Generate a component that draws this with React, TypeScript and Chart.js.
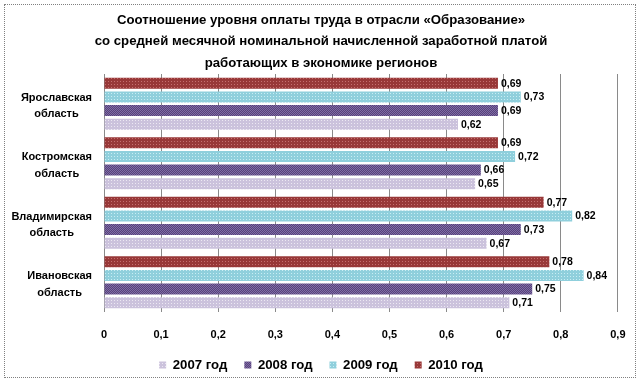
import React, { useEffect, useRef } from "react";
import { Chart, registerables } from "chart.js";

Chart.register(...registerables);

const categories: string[][] = [
  ["Ярославская", "область"],
  ["Костромская", "область"],
  ["Владимирская", "область"],
  ["Ивановская", "область"],
];
const titleLines = [
  "Соотношение уровня оплаты труда в отрасли «Образование»",
  "со средней месячной номинальной начисленной заработной платой",
  "работающих в экономике регионов",
];
const values2007 = [0.62, 0.65, 0.67, 0.71];
const values2008 = [0.69, 0.66, 0.73, 0.75];
const values2009 = [0.73, 0.72, 0.82, 0.84];
const values2010 = [0.69, 0.69, 0.77, 0.78];
const seriesNames = ["2007 год", "2008 год", "2009 год", "2010 год"];

const FONT = "'Liberation Sans', Arial, sans-serif";

function makePattern(base: string, dot: string, size: number, checker: boolean) {
  const c = document.createElement("canvas");
  c.width = size;
  c.height = size;
  const g = c.getContext("2d")!;
  g.fillStyle = base;
  g.fillRect(0, 0, size, size);
  g.fillStyle = dot;
  g.fillRect(0, 0, 1, 1);
  if (checker) g.fillRect(1, 1, 1, 1);
  const p = g.createPattern(c, "repeat");
  return p || base;
}

const valueLabels = {
  id: "valueLabels",
  afterDatasetsDraw(chart: any) {
    const ctx = chart.ctx;
    ctx.save();
    ctx.font = `bold 10.5px ${FONT}`;
    ctx.fillStyle = "#000";
    ctx.textAlign = "left";
    ctx.textBaseline = "middle";
    chart.data.datasets.forEach((ds: any, i: number) => {
      const meta = chart.getDatasetMeta(i);
      meta.data.forEach((el: any, j: number) => {
        const v = ds.data[j] as number;
        ctx.fillText(v.toFixed(2).replace(".", ","), el.x + 3, el.y + 0.5);
      });
    });
    ctx.restore();
  },
};

const yLabels = {
  id: "yLabels",
  afterDraw(chart: any) {
    const ctx = chart.ctx;
    const ys = chart.scales.y;
    ctx.save();
    ctx.font = `bold 11px ${FONT}`;
    ctx.fillStyle = "#000";
    ctx.textAlign = "center";
    ctx.textBaseline = "middle";
    (chart.data.labels as string[][]).forEach((lines, i) => {
      const y = ys.getPixelForValue(i);
      const w = Math.max(...lines.map((l) => ctx.measureText(l).width));
      const cx = 92 - w / 2;
      lines.forEach((l, k) => {
        ctx.fillText(l, cx, y + 2 + (k - (lines.length - 1) / 2) * 16.5);
      });
    });
    ctx.restore();
  },
};

export default function App() {
  const ref = useRef<HTMLCanvasElement>(null);
  useEffect(() => {
    const p2007 = makePattern("#cbc2dc", "#ece8f2", 3, false);
    const p2008 = makePattern("#574279", "#7f6ca6", 2, true);
    const p2009 = makePattern("#8fcfdc", "#c9edf3", 3, false);
    const p2010 = makePattern("#983838", "#c46e6e", 3, false);
    const chart = new Chart(ref.current!, {
      type: "bar",
      data: {
        labels: categories as any,
        datasets: [
          { label: seriesNames[3], data: values2010, backgroundColor: p2010 as any, borderWidth: 0 },
          { label: seriesNames[2], data: values2009, backgroundColor: p2009 as any, borderWidth: 0 },
          { label: seriesNames[1], data: values2008, backgroundColor: p2008 as any, borderWidth: 0 },
          { label: seriesNames[0], data: values2007, backgroundColor: p2007 as any, borderWidth: 0 },
        ],
      },
      options: {
        indexAxis: "y",
        responsive: false,
        animation: false,
        devicePixelRatio: 1,
        layout: { padding: { left: 0, right: 0, top: 0, bottom: 0.4 } },
        datasets: { bar: { barPercentage: 0.8, categoryPercentage: 0.92 } },
        scales: {
          x: {
            min: 0,
            max: 0.9,
            ticks: {
              stepSize: 0.1,
              padding: 16.5,
              maxRotation: 0,
              color: "#000",
              font: { family: FONT, size: 11, weight: "bold" },
              callback: (v: any) => (Number(v) === 0 ? "0" : Number(v).toFixed(1).replace(".", ",")),
            },
            grid: { color: "#8a8a8a", drawTicks: false, lineWidth: 1 },
            border: { display: false },
            afterFit: (s: any) => {
              s.height = 29.4;
            },
          },
          y: {
            ticks: { display: false },
            grid: { display: false },
            border: { display: false },
            afterFit: (s: any) => {
              s.width = 104;
            },
          },
          y2: {
            type: "linear",
            position: "right",
            display: true,
            ticks: { display: false },
            grid: { display: false },
            border: { display: false },
            afterFit: (s: any) => {
              s.width = 22;
            },
          },
        },
        plugins: {
          title: {
            display: true,
            text: titleLines,
            color: "#000",
            font: { family: FONT, size: 13.2, weight: "bold", lineHeight: 21.5 / 13.2 },
            padding: { top: 9.5, bottom: 0 },
          },
          legend: {
            position: "bottom",
            reverse: true,
            labels: {
              boxWidth: 7,
              boxHeight: 7,
              padding: 17,
              color: "#000",
              font: { family: FONT, size: 13.2, weight: "bold" },
            },
          },
          tooltip: { enabled: false },
        },
      } as any,
      plugins: [valueLabels, yLabels],
    });
    return () => chart.destroy();
  }, []);
  return (
    <div style={{ position: "fixed", left: 0, top: 0, width: 642, height: 382, background: "#fff" }}>
      <div
        style={{
          position: "absolute",
          left: 4,
          top: 4,
          width: 632,
          height: 374,
          boxSizing: "border-box",
          border: "1px dotted #808080",
        }}
      />
      <canvas ref={ref} width={642} height={382} style={{ position: "absolute", left: 0, top: 0 }} />
    </div>
  );
}
